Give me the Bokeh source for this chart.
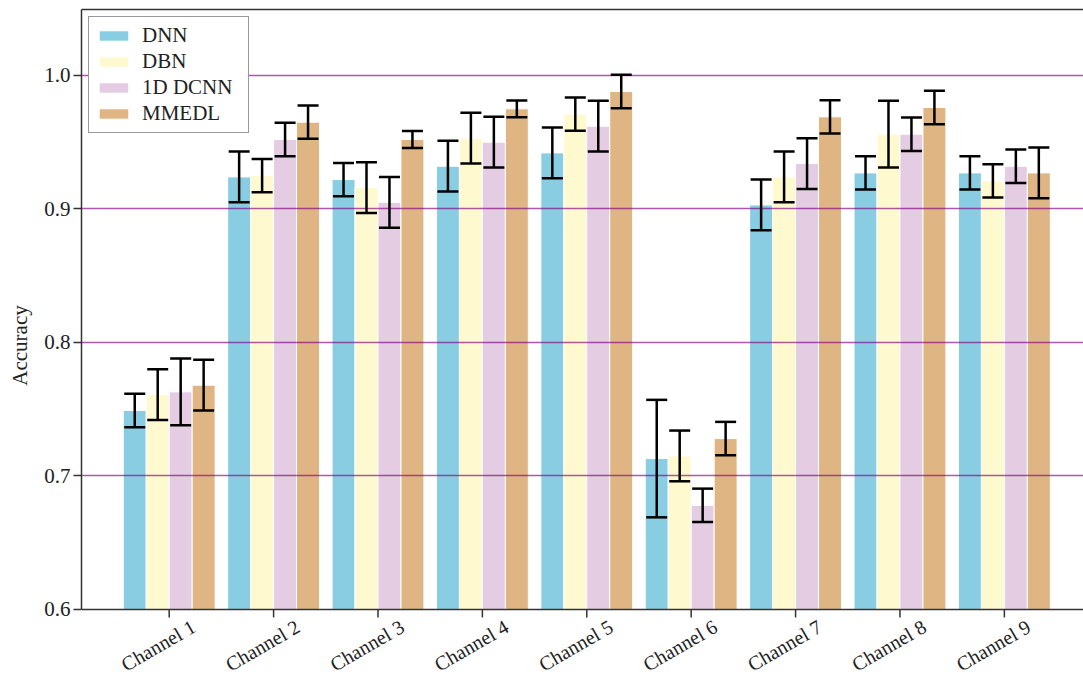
import math
from bokeh.plotting import figure
from bokeh.core.properties import value
from bokeh.models import (ColumnDataSource, Whisker, TeeHead, Legend, LegendItem,
                          FixedTicker, LinearAxis, Range1d, Span)
from bokeh.embed import file_html
from bokeh.resources import INLINE

channels = ["Channel 1", "Channel 2", "Channel 3", "Channel 4", "Channel 5",
            "Channel 6", "Channel 7", "Channel 8", "Channel 9"]
models = ["DNN", "DBN", "1D DCNN", "MMEDL"]

dnn = [0.749, 0.924, 0.922, 0.932, 0.942, 0.713, 0.903, 0.927, 0.927]
dnn_err = [0.0125, 0.019, 0.0125, 0.019, 0.019, 0.044, 0.019, 0.0125, 0.0125]
dbn = [0.761, 0.925, 0.916, 0.953, 0.971, 0.715, 0.924, 0.956, 0.921]
dbn_err = [0.019, 0.0125, 0.019, 0.019, 0.0125, 0.019, 0.019, 0.025, 0.0125]
dcnn = [0.763, 0.952, 0.905, 0.950, 0.962, 0.678, 0.934, 0.956, 0.932]
dcnn_err = [0.025, 0.0125, 0.019, 0.019, 0.019, 0.0125, 0.019, 0.0125, 0.0125]
mmedl = [0.768, 0.965, 0.952, 0.975, 0.988, 0.728, 0.969, 0.976, 0.927]
mmedl_err = [0.019, 0.0125, 0.0063, 0.0063, 0.0125, 0.0125, 0.0125, 0.0125, 0.019]

y_ticks = [0.6, 0.7, 0.8, 0.9, 1.0]
y_min, y_max = 0.6, 1.0494

series = [dnn, dbn, dcnn, mmedl]
errors = [dnn_err, dbn_err, dcnn_err, mmedl_err]
colors = ["#88CDE2", "#FEF9CF", "#E4CCE2", "#DFB584"]
offsets = [-0.33, -0.11, 0.11, 0.33]

FONT = "Liberation Serif"
PX_PER_UNIT = 1335.0          # vertical scale of the frame
FRAME_H = 672                 # 600 px data area + label band inside the frame
y_start = y_max - FRAME_H / PX_PER_UNIT

p = figure(width=1083, height=FRAME_H + 9, output_backend="svg", toolbar_location=None,
           x_range=Range1d(0.16, 9.758), y_range=Range1d(y_start, y_max),
           min_border_left=81, min_border_right=0, min_border_top=9, min_border_bottom=0,
           x_axis_location=None)
p.outline_line_color = None
p.xgrid.grid_line_color = None
p.ygrid.grid_line_color = "purple"
p.ygrid.grid_line_alpha = 0.65
p.ygrid.grid_line_width = 1.5
p.ygrid.level = "guide"
p.ygrid[0].ticker = FixedTicker(ticks=y_ticks[1:])

idx = list(range(1, len(channels) + 1))
items = []
for name, vals, errs, col, off in zip(models, series, errors, colors, offsets):
    xs = [i + off for i in idx]
    src = ColumnDataSource(dict(x=xs, top=vals,
                                upper=[v + e for v, e in zip(vals, errs)],
                                lower=[v - e for v, e in zip(vals, errs)]))
    r = p.vbar(x="x", top="top", bottom=y_min, width=0.22, source=src,
               fill_color=col, line_color="white", line_width=1)
    items.append(LegendItem(label=name, renderers=[r]))
    w = Whisker(base="x", upper="upper", lower="lower", source=src, level="annotation",
                line_color="black", line_width=2.5,
                upper_head=TeeHead(size=21, line_width=2.5, line_color="black"),
                lower_head=TeeHead(size=21, line_width=2.5, line_color="black"))
    p.add_layout(w)

legend = Legend(items=items, location="top_left", margin=7, padding=6, spacing=1,
                label_height=25, label_width=100, glyph_height=13, glyph_width=37,
                label_standoff=10,
                label_text_font=FONT, label_text_font_size="21px",
                label_text_color="#222222",
                border_line_color="#333333", border_line_width=1.2,
                background_fill_alpha=1.0)
p.add_layout(legend)

# left axis
ya = p.yaxis[0]
ya.bounds = (y_min, y_max)
ya.axis_line_color = "#333333"
ya.axis_line_width = 1.5
ya.major_tick_line_color = "#333333"
ya.major_tick_line_width = 1.5
ya.major_tick_in = 0
ya.major_tick_out = 8
ya.minor_tick_line_color = None
ya.major_label_text_font = FONT
ya.major_label_text_font_size = "21px"
ya.major_label_text_color = "#222222"
ya.ticker = FixedTicker(ticks=y_ticks)
ya.major_label_overrides = {t: f"{t:.1f}" for t in y_ticks}
ya.major_label_standoff = 3
ya.axis_label = "Accuracy"
ya.axis_label_text_font = FONT
ya.axis_label_text_font_size = "21px"
ya.axis_label_text_font_style = "normal"
ya.axis_label_text_color = "#222222"
ya.axis_label_standoff = 9

# bottom spine, ticks and rotated category labels drawn inside the frame's label band
p.add_layout(Span(location=y_min, dimension="width", line_color="#333333",
                  line_width=1.5, level="annotation"))
p.ray(x=idx, y=[y_min] * len(idx), length=8, length_units="screen",
      angle=-math.pi / 2, line_color="#333333", line_width=1.5)
p.text(x=idx, y=[y_min] * len(idx), text=channels, angle=math.pi / 6,
       x_offset=-11, y_offset=36, text_align="center", text_baseline="middle",
       text_font=value(FONT), text_font_size="20px", text_color="#222222")

top_axis = LinearAxis(ticker=FixedTicker(ticks=[]), axis_line_color="#333333",
                      axis_line_width=1.5, major_tick_out=0, major_tick_in=0,
                      minor_tick_out=0, minor_tick_in=0,
                      major_label_text_font_size="0px", major_label_standoff=0)
p.add_layout(top_axis, "above")

open("out.html", "w").write(file_html(p, INLINE))
